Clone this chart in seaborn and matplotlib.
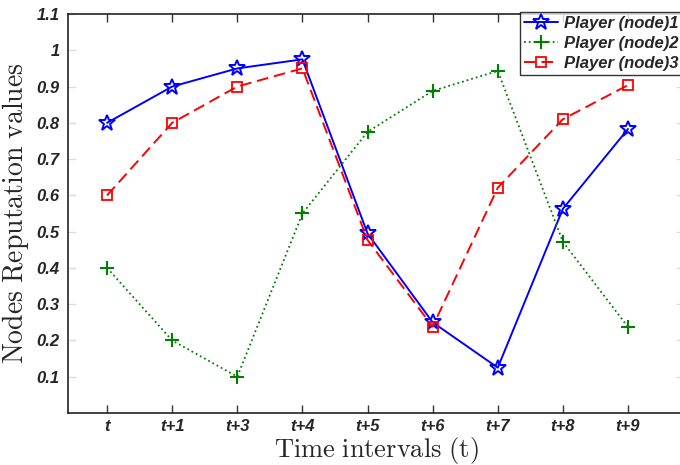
import matplotlib
matplotlib.use("Agg")
import matplotlib.pyplot as plt
from matplotlib.font_manager import FontProperties
import seaborn as sns

# data
labels = ['t', 't+1', 't+3', 't+4', 't+5', 't+6', 't+7', 't+8', 't+9']
node1 = [0.80, 0.90, 0.95, 0.975, 0.495, 0.25, 0.125, 0.563, 0.783]
node2 = [0.40, 0.20, 0.10, 0.55, 0.775, 0.888, 0.943, 0.472, 0.237]
node3 = [0.60, 0.80, 0.90, 0.95, 0.477, 0.238, 0.621, 0.81, 0.904]
yticks = [0.1, 0.2, 0.3, 0.4, 0.5, 0.6, 0.7, 0.8, 0.9, 1.0, 1.1]
ytick_labels = ['0.1', '0.2', '0.3', '0.4', '0.5', '0.6', '0.7', '0.8', '0.9', '1', '1.1']

sns.set_style('white')
plt.rcParams['mathtext.fontset'] = 'cm'

fig = plt.figure(figsize=(6.8, 4.65), dpi=100)
ax = fig.add_axes([68/680, 1 - 413/465, 616/680, 399/465])

xs = list(range(len(labels)))
sns.lineplot(x=xs, y=node1, ax=ax, color='#0000ff', linestyle='-', lw=1.4,
             marker='*', markersize=12, markerfacecolor='none', markeredgecolor='#0000ff',
             markeredgewidth=1.4, label='Player (node)1')
sns.lineplot(x=xs, y=node2, ax=ax, color='#008000', linestyle=':', lw=1.3,
             marker='+', markersize=10, markeredgecolor='#008000', markeredgewidth=1.5,
             label='Player (node)2')
sns.lineplot(x=xs, y=node3, ax=ax, color='#ff0000', linestyle=(0, (6, 3)), lw=1.4,
             marker='s', markersize=6.5, markerfacecolor='none', markeredgecolor='#ff0000',
             markeredgewidth=1.3, label='Player (node)3')

ax.set_xlim(-0.6, 8.86)
ax.set_ylim(0, 1.1)
ax.set_xticks(xs)
ax.set_xticklabels(labels)
ax.set_yticks(yticks)
ax.set_yticklabels(ytick_labels)

tick_fp = FontProperties(family='Liberation Sans', weight='bold', style='italic', size=12)
for t in ax.get_xticklabels() + ax.get_yticklabels():
    t.set_fontproperties(tick_fp)

ax.tick_params(axis='x', direction='in', top=True, bottom=True, length=6, width=1,
               color='#333333', pad=4)
ax.tick_params(axis='y', direction='in', left=True, right=True, length=6, width=1,
               color='#dddddd', pad=6)
for s in ax.spines.values():
    s.set_color('#222222')
    s.set_linewidth(1.2)

ax.set_xlabel(r'$\mathrm{Time\ intervals\ (t)}$', fontsize=19, labelpad=1)
ax.set_ylabel(r'$\mathrm{Nodes\ Reputation\ values}$', fontsize=20, labelpad=4)

leg = ax.legend(loc='upper right', bbox_to_anchor=(1.0 + 3/680, 1 - 12/465),
                bbox_transform=fig.transFigure,
                frameon=True, fancybox=False, borderpad=0.25, labelspacing=0.3,
                handlelength=2.0, handletextpad=0.4, borderaxespad=0,
                prop=FontProperties(family='Liberation Sans', weight='bold', style='italic', size=12))
leg.get_frame().set_edgecolor('black')
leg.get_frame().set_linewidth(1.0)

fig.savefig('out.png', dpi=100)
